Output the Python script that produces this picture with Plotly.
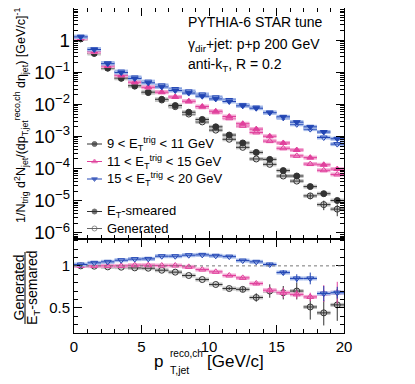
import plotly.graph_objects as go

# bin centres (1 GeV/c bins)
pt = [0.5, 1.5, 2.5, 3.5, 4.5, 5.5, 6.5, 7.5, 8.5, 9.5,
      10.5, 11.5, 12.5, 13.5, 14.5, 15.5, 16.5, 17.5, 18.5, 19.5]
half_bin = 0.5

# 9 < ET^trig < 11 GeV
smeared_9_11 = [1.10, 0.39, 0.136, 0.066, 0.038, 0.024, 0.0144, 0.0092, 0.0057, 0.0034,
                0.0020, 0.00111, 0.00063, 0.00032, 0.000194, 8.7e-5, 5.9e-5, 2.76e-5, 1.66e-5, 1.02e-5]
smeared_err_9_11 = [0, 0, 0, 0, 0, 0, 0, 0, 0, 0, 0, 0, 0, 0, 0, 0, 0, 1.5e-6, 1.5e-6, 2e-6]
generated_9_11 = [1.10, 0.388, 0.134, 0.065, 0.037, 0.0233, 0.0137, 0.0085, 0.0050, 0.00285,
                  0.00158, 0.00082, 0.00046, 0.00020, 0.000136, 5.9e-5, 4.1e-5, 1.42e-5, 7.6e-6, 5.5e-6]
generated_err_9_11 = [0, 0, 0, 0, 0, 0, 0, 0, 0, 0, 0, 0, 0, 0, 0, 0, 0, 3e-6, 2.5e-6, 2.2e-6]
ratio_9_11 = [1.0, 0.996, 0.988, 0.984, 0.976, 0.972, 0.948, 0.925, 0.885, 0.837,
              0.778, 0.73, 0.72, 0.623, 0.70, 0.68, 0.70, 0.51, 0.44, 0.535]
ratio_err_9_11 = [0, 0, 0, 0, 0, 0, 0, 0, 0, 0, 0.01, 0.02, 0.03, 0.05, 0.08, 0.08, 0.10, 0.15, 0.15, 0.19]

# 11 < ET^trig < 15 GeV
smeared_11_15 = [1.15, 0.44, 0.157, 0.081, 0.049, 0.034, 0.024, 0.017, 0.0125, 0.0086,
                 0.0061, 0.0042, 0.0025, 0.0017, 0.00102, 0.00063, 0.00038, 0.00022, 0.000132, 9.7e-5]
generated_11_15 = [1.15, 0.44, 0.157, 0.081, 0.0494, 0.0343, 0.0241, 0.0171, 0.0124, 0.0082,
                   0.0057, 0.0037, 0.00215, 0.00134, 0.00072, 0.00043, 0.00025, 0.000139, 8.9e-5, 6.6e-5]
ratio_11_15 = [1.0, 1.0, 1.0, 1.0, 1.008, 1.008, 1.004, 1.004, 0.988, 0.956,
               0.929, 0.885, 0.857, 0.79, 0.71, 0.68, 0.66, 0.63, 0.67, 0.68]
ratio_err_11_15 = [0, 0, 0, 0, 0, 0, 0, 0, 0, 0, 0, 0, 0.01, 0.02, 0.04, 0.06, 0.05, 0.05, 0.10, 0.13]

# 15 < ET^trig < 20 GeV
smeared_15_20 = [1.26, 0.51, 0.185, 0.098, 0.064, 0.047, 0.035, 0.027, 0.0225, 0.018,
                 0.0148, 0.0123, 0.0090, 0.0076, 0.0055, 0.0041, 0.0028, 0.0020, 0.00138, 0.00085]
generated_15_20 = [1.28, 0.53, 0.194, 0.105, 0.069, 0.051, 0.039, 0.030, 0.0254, 0.0204,
                   0.0166, 0.0137, 0.0096, 0.0080, 0.0056, 0.0038, 0.0024, 0.0017, 0.00093, 0.00058]
ratio_15_20 = [1.016, 1.036, 1.048, 1.067, 1.08, 1.083, 1.115, 1.115, 1.127, 1.131,
               1.12, 1.11, 1.063, 1.048, 1.016, 0.92, 0.85, 0.85, 0.67, 0.68]
ratio_err_15_20 = [0, 0, 0, 0, 0, 0, 0, 0, 0, 0, 0, 0, 0, 0, 0.02, 0.03, 0.05, 0.07, 0.09, 0.07]

zeros = [0] * len(pt)
series = [
    dict(label="9 < E<sub>T</sub><sup>trig</sup> < 11 GeV", sm=smeared_9_11, sm_err=smeared_err_9_11,
         gen=generated_9_11, gen_err=generated_err_9_11, ratio=ratio_9_11, ratio_err=ratio_err_9_11,
         color='#333333', light='#c4c4c4', sym='circle'),
    dict(label="11 < E<sub>T</sub><sup>trig</sup> < 15 GeV", sm=smeared_11_15, sm_err=zeros,
         gen=generated_11_15, gen_err=zeros, ratio=ratio_11_15, ratio_err=ratio_err_11_15,
         color='#e0409c', light='#f3aad4', sym='triangle-up'),
    dict(label="15 < E<sub>T</sub><sup>trig</sup> < 20 GeV", sm=smeared_15_20, sm_err=zeros,
         gen=generated_15_20, gen_err=zeros, ratio=ratio_15_20, ratio_err=ratio_err_15_20,
         color='#2346b4', light='#a6bbea', sym='triangle-down'),
]

FONT = "Liberation Sans, Arial, Helvetica, sans-serif"
# page has an 8px body margin; positions below are screen pixels of the reference
OFF = 8
FW, FH = 415 - OFF, 384 - OFF
L, R, T, B = 74, 344, 8, 333
W, H = R - L, B - T
split = (B - 239) / H


def px(x):
    return (x - L) / W


def py(y):
    return (B - y) / H


def label(text, x, y, size, xanchor='left', angle=0):
    return dict(x=px(x), y=py(y), xref='paper', yref='paper', text=text, showarrow=False,
                xanchor=xanchor, yanchor='middle', textangle=angle,
                font=dict(size=size, color='black'))


fig = go.Figure()


def add_points(y, ey, s, filled, xa, ya):
    fig.add_trace(go.Scatter(
        x=pt, y=y, mode='markers', xaxis=xa, yaxis=ya, showlegend=False, hoverinfo='skip',
        marker=dict(size=1, opacity=0),
        error_x=dict(type='constant', value=half_bin, color=s['light'], thickness=4, width=0)))
    sym = s['sym'] if filled else s['sym'] + '-open'
    fig.add_trace(go.Scatter(
        x=pt, y=y, mode='markers', xaxis=xa, yaxis=ya, showlegend=False,
        marker=dict(symbol=sym, size=6, color=s['color'], line=dict(color=s['color'], width=1)),
        error_x=dict(type='constant', value=half_bin, color=s['color'], thickness=1, width=0),
        error_y=dict(type='data', array=ey, color=s['color'], thickness=1, width=0)))


for s in series:
    add_points(s['gen'], s['gen_err'], s, False, 'x2', 'y')
    add_points(s['sm'], s['sm_err'], s, True, 'x2', 'y')
    add_points(s['ratio'], s['ratio_err'], s, False, 'x', 'y2')

# legend drawn in pixel space on a transparent full-frame axis pair
legend_rows = [
    (series[0]['label'], series[0]['color'], 'circle', 144),
    (series[1]['label'], series[1]['color'], 'triangle-up', 161.5),
    (series[2]['label'], series[2]['color'], 'triangle-down', 179),
    ("E<sub>T</sub>-smeared", '#333333', 'circle', 211.5),
    ("Generated", '#666666', 'circle-open', 228.5),
]
annotations = []
for text, col, sym, yy in legend_rows:
    fig.add_trace(go.Scatter(
        x=[87, 94.5, 102], y=[yy, yy, yy], mode='lines+markers', xaxis='x3', yaxis='y3',
        showlegend=False, hoverinfo='skip', line=dict(color=col, width=1),
        marker=dict(symbol=sym, size=[0, 5, 0], color=col, line=dict(color=col, width=1))))
    annotations.append(label(text, 105, yy, 13))

annotations += [
    label("PYTHIA-6 STAR tune", 186, 21.7, 14),
    label("γ<sub>dir</sub>+jet: p+p 200 GeV", 186, 45, 14),
    label("anti-k<sub>T</sub>, R = 0.2", 186, 65, 14),
    label("1/N<sub>trig</sub> d<sup>2</sup>N<sub>jet</sub>/(dp<sub>T,jet</sub><sup>reco,ch</sup> "
          "dη<sub>jet</sub>) [GeV/c]<sup>-1</sup>", 21, 116, 12.5, 'center', -90),
    label("Generated", 18.5, 288, 14, 'center', -90),
    label("E<sub>T</sub>-semared", 33, 288, 14, 'center', -90),
    # x title with stacked sub/superscript
    label("p", 152, 361, 17),
    label("reco,ch", 168, 353, 10),
    label("T,jet", 168, 370, 10.5),
    label("[GeV/c]", 205, 361, 17),
]

shapes = [
    dict(type='line', xref='x', yref='y2', x0=0, x1=20, y0=1, y1=1,
         line=dict(color='#777777', width=1, dash='dot')),
    dict(type='line', xref='paper', yref='paper', x0=px(25), x1=px(25), y0=py(252), y1=py(324),
         line=dict(color='black', width=1)),
]

axis_common = dict(showline=True, linecolor='black', linewidth=1, mirror='allticks',
                   ticks='inside', tickcolor='black', showgrid=False, zeroline=False,
                   tickfont=dict(size=15, color='black'))

fig.update_layout(
    width=FW, height=FH, margin=dict(l=L - OFF, r=415 - R, t=T - OFF, b=384 - B),
    paper_bgcolor='white', plot_bgcolor='rgba(0,0,0,0)', font=dict(family=FONT, color='black'),
    showlegend=False,
    xaxis=dict(domain=[0, 1], anchor='y2', range=[0, 20], dtick=5, tick0=0, ticklen=8,
               minor=dict(dtick=1, ticklen=4, ticks='inside', tickcolor='black'), **axis_common),
    yaxis2=dict(domain=[0, split], anchor='x', range=[0.2, 1.32], dtick=0.5, tick0=0, ticklen=8,
                minor=dict(dtick=0.1, ticklen=4, ticks='inside', tickcolor='black'), **axis_common),
    xaxis2=dict(domain=[0, 1], anchor='y', matches='x', range=[0, 20], dtick=5, tick0=0, ticklen=8,
                showticklabels=False,
                minor=dict(dtick=1, ticklen=4, ticks='inside', tickcolor='black'), **axis_common),
    yaxis=dict(domain=[split, 1], anchor='x2', type='log', range=[-6.19, 1], dtick=1,
               exponentformat='power', ticklen=8,
               minor=dict(dtick='D1', ticklen=4, ticks='inside', tickcolor='black'), **axis_common),
    xaxis3=dict(domain=[0, 1], anchor='y3', range=[L, R], visible=False),
    yaxis3=dict(domain=[0, 1], anchor='x3', range=[B, T], visible=False),
    annotations=annotations, shapes=shapes,
)

fig.write_html("out.html")
